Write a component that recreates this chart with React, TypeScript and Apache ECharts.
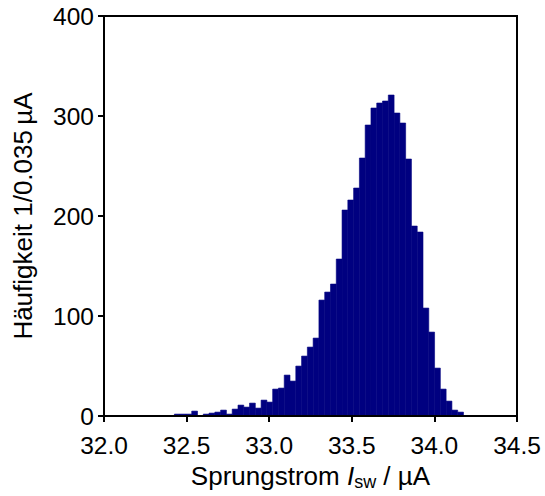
import React, { useEffect, useRef } from "react";
import * as echarts from "echarts";

// Histogram of switching currents, bin width 0.035 µA
const binStart = 32.426;
const binWidth = 0.035;
const counts = [
  2, 2, 2, 5, 0, 2, 3, 4, 6, 2, 7, 11, 9, 13, 8, 16, 14, 27, 28, 41, 35, 50, 60, 69, 78,
  116, 124, 132, 157, 206, 216, 228, 258, 291, 308, 313, 315, 321, 303, 293, 257, 190,
  184, 108, 84, 48, 27, 15, 6, 4,
];
const xMin = 32.0;
const xMax = 34.5;
const xInterval = 0.5;
const yMin = 0;
const yMax = 400;
const yInterval = 100;

const FONT = "Liberation Sans, Arial, Helvetica, sans-serif";

export default function App() {
  const ref = useRef<HTMLDivElement>(null);
  useEffect(() => {
    if (!ref.current) return;
    const chart = echarts.init(ref.current, undefined, { renderer: "svg" });
    const data = counts.map((c, i) => [
      binStart + i * binWidth,
      binStart + (i + 1) * binWidth,
      c,
    ]);
    chart.setOption({
      animation: false,
      backgroundColor: "#ffffff",
      grid: {
        left: 104,
        right: 28,
        top: 16,
        bottom: 79,
        show: true,
        borderColor: "#000",
        borderWidth: 2,
        backgroundColor: "transparent",
      },
      xAxis: {
        type: "value",
        min: xMin,
        max: xMax,
        interval: xInterval,
        z: 10,
        splitLine: { show: false },
        axisLine: { show: true, onZero: false, lineStyle: { color: "#000", width: 2 } },
        axisTick: { show: true, inside: false, length: 6, lineStyle: { color: "#000", width: 2 } },
        axisLabel: {
          color: "#000",
          fontSize: 24.5,
          fontFamily: FONT,
          margin: 17,
          formatter: (v: number) => v.toFixed(1),
        },
        name: "{a|Sprungstrom }{i|I}{s|sw}{a| / µA}",
        nameLocation: "middle",
        nameGap: 38,
        nameTextStyle: {
          color: "#000",
          fontFamily: FONT,
          rich: {
            a: { fontSize: 26, fontFamily: FONT, color: "#000", lineHeight: 30, verticalAlign: "middle" },
            i: { fontSize: 26, fontFamily: FONT, color: "#000", fontStyle: "italic", lineHeight: 30, verticalAlign: "middle" },
            s: { fontSize: 18, fontFamily: FONT, color: "#000", lineHeight: 12, verticalAlign: "bottom" },
          },
        },
      },
      yAxis: {
        type: "value",
        min: yMin,
        max: yMax,
        interval: yInterval,
        z: 10,
        splitLine: { show: false },
        axisLine: { show: true, lineStyle: { color: "#000", width: 2 } },
        axisTick: { show: true, inside: false, length: 6, lineStyle: { color: "#000", width: 2 } },
        axisLabel: { color: "#000", fontSize: 24.5, fontFamily: FONT, margin: 10 },
        name: "Häufigkeit 1/0.035\u2009µA",
        nameLocation: "middle",
        nameGap: 68,
        nameTextStyle: { color: "#000", fontSize: 26, fontFamily: FONT },
      },
      series: [
        {
          type: "custom",
          data,
          encode: { x: [0, 1], y: 2 },
          clip: true,
          renderItem: (params: any, api: any) => {
            const x0 = api.value(0);
            const x1 = api.value(1);
            const v = api.value(2);
            if (!v) return null;
            const p0 = api.coord([x0, v]);
            const p1 = api.coord([x1, 0]);
            return {
              type: "rect",
              shape: { x: p0[0], y: p0[1], width: p1[0] - p0[0], height: p1[1] - p0[1] },
              style: { fill: "#000080", stroke: "#000080", lineWidth: 0.6 },
            };
          },
        },
      ],
    });
    return () => chart.dispose();
  }, []);
  return (
    <div
      ref={ref}
      style={{ position: "fixed", left: 0, top: 0, width: 545, height: 496, background: "#fff" }}
    />
  );
}
